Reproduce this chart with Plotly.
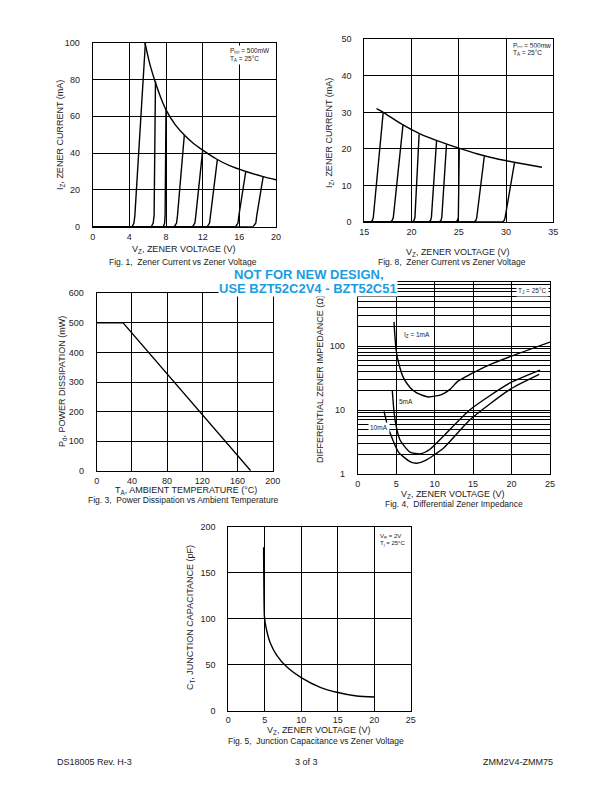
import plotly.graph_objects as go

W, H = 612, 792
FONT = "Liberation Sans, Arial, sans-serif"

# ---------------- Data ----------------
# Fig 1: Zener current vs zener voltage (0-20 V)
f1_env_v = [5.7, 6.2, 6.8, 7.4, 8.0, 9.0, 10.0, 11.0, 12.0, 13.5, 15.0, 16.7, 18.6, 20.0]
f1_env_i = [100, 89, 79, 70.5, 63.5, 55.5, 49.8, 45.2, 41.6, 36.8, 33.0, 30, 27.2, 25.5]
f1_curves_v = [
    [0, 4.3, 4.5, 4.6, 5.75],
    [0, 6.4, 6.6, 6.7, 6.85],
    [0, 7.7, 7.85, 7.9, 8.0],
    [0, 8.9, 9.15, 9.25, 10.0],
    [0, 10.9, 11.15, 11.25, 12.0],
    [0, 12.5, 12.75, 12.85, 13.6],
    [0, 15.6, 15.85, 15.95, 16.7],
    [0, 17.5, 17.8, 17.9, 18.6],
]
f1_curves_i = [
    [0, 0, 2, 6, 100],
    [0, 0, 2, 6, 79],
    [0, 0, 2, 6, 63.5],
    [0, 0, 2, 6, 50],
    [0, 0, 2, 6, 41.6],
    [0, 0, 2, 6, 36.5],
    [0, 0, 2, 6, 30],
    [0, 0, 2, 6, 27.2],
]

# Fig 8: Zener current vs zener voltage (15-35 V)
f8_env_v = [16.3, 17.0, 19.0, 21.0, 23.0, 25.0, 27.0, 29.0, 31.0, 33.8]
f8_env_i = [31.0, 30.0, 26.7, 24.0, 22.0, 20.2, 18.6, 17.3, 16.3, 15.0]
f8_curves_v = [
    [15, 15.65, 15.85, 15.95, 17.0],
    [15, 17.75, 17.95, 18.07, 19.1],
    [15, 20.05, 20.25, 20.36, 20.8],
    [15, 21.8, 22.0, 22.1, 22.65],
    [15, 22.9, 23.1, 23.2, 23.7],
    [15, 24.65, 24.85, 24.95, 25.05],
    [15, 26.6, 26.8, 26.9, 27.7],
    [15, 29.6, 29.8, 29.9, 30.9],
]
f8_curves_i = [
    [0, 0, 0.4, 1.2, 30.0],
    [0, 0, 0.4, 1.2, 26.7],
    [0, 0, 0.4, 1.2, 24.0],
    [0, 0, 0.4, 1.2, 22.3],
    [0, 0, 0.4, 1.2, 21.3],
    [0, 0, 0.4, 1.2, 20.2],
    [0, 0, 0.4, 1.2, 18.0],
    [0, 0, 0.4, 1.2, 16.3],
]

# Fig 3: Power dissipation vs ambient temperature
f3_temp = [0, 30, 175]
f3_power = [500, 500, 0]

# Fig 4: Differential zener impedance (log)
f4_1ma_v = [4.72, 5.0, 5.4, 5.94, 6.8, 7.67, 9.19, 10.9, 12.0, 13.0, 14.6, 17.0, 19.8, 25.0]
f4_1ma_z = [238, 85, 50, 32, 22.5, 18.5, 16, 17.4, 21, 28, 36, 50, 68, 115]
f4_5ma_v = [4.5, 4.7, 4.95, 5.5, 6.8, 8.1, 9.4, 11.1, 14.6, 19.8, 23.7]
f4_5ma_z = [20, 10, 6, 3.4, 2.2, 2.06, 2.44, 3.86, 10.1, 26.5, 42]
f4_10ma_v = [3.42, 3.8, 4.2, 5.3, 6.8, 7.67, 8.75, 11.1, 14.6, 19.8, 23.6]
f4_10ma_z = [9.5, 6.2, 4.4, 2.2, 1.56, 1.47, 1.62, 2.5, 7.05, 21, 36]

# Fig 5: Junction capacitance vs zener voltage
f5_v = [4.84, 4.94, 5.03, 5.3, 5.7, 6.6, 8.0, 10.05, 12.6, 14.85, 17.6, 20.1]
f5_c = [177.6, 104, 97, 86, 75, 61, 48, 36, 25.7, 20.3, 16.3, 15.2]

# ---------------- Figure ----------------
OFF = 8  # page body margin in the browser

def px(x):
    return (x - OFF) / W

def py(y):
    return 1 - (y - OFF) / H

fig = go.Figure()
line = dict(color="black", width=1.4)
sline = dict(color="black", width=1.4, shape="spline", smoothing=0.6)

for v, i in zip(f1_curves_v, f1_curves_i):
    fig.add_trace(go.Scatter(x=v, y=i, mode="lines", line=line, xaxis="x", yaxis="y"))
fig.add_trace(go.Scatter(x=f1_env_v, y=f1_env_i, mode="lines", line=sline, xaxis="x", yaxis="y"))

for v, i in zip(f8_curves_v, f8_curves_i):
    fig.add_trace(go.Scatter(x=v, y=i, mode="lines", line=line, xaxis="x2", yaxis="y2"))
fig.add_trace(go.Scatter(x=f8_env_v, y=f8_env_i, mode="lines", line=sline, xaxis="x2", yaxis="y2"))

fig.add_trace(go.Scatter(x=f3_temp, y=f3_power, mode="lines", line=line, xaxis="x3", yaxis="y3"))

for v, z in [(f4_1ma_v, f4_1ma_z), (f4_5ma_v, f4_5ma_z), (f4_10ma_v, f4_10ma_z)]:
    fig.add_trace(go.Scatter(x=v, y=z, mode="lines", line=sline, xaxis="x4", yaxis="y4"))

fig.add_trace(go.Scatter(x=f5_v, y=f5_c, mode="lines", line=sline, xaxis="x5", yaxis="y5"))

tickfont = dict(family=FONT, size=9, color="#222")
base = dict(showline=True, linecolor="black", linewidth=1, mirror=True, showgrid=True,
            gridcolor="black", gridwidth=1, zeroline=False, ticks="", tickfont=tickfont,
            fixedrange=True, automargin=False)

def ax(domain, rng, dtick=None, anchor=None, **kw):
    d = dict(base)
    d.update(domain=domain, range=rng, anchor=anchor)
    if dtick is not None:
        d["dtick"] = dtick
    d.update(kw)
    return d

minor_vals = [2, 3, 4, 5, 6, 7, 8, 9, 20, 30, 40, 50, 60, 70, 80, 90, 200, 300, 400, 500, 600, 700, 800, 900]
XS = 1
YS = 10

fig.update_layout(
    width=W, height=H, margin=dict(l=0, r=0, t=0, b=0, autoexpand=False),
    paper_bgcolor="white", plot_bgcolor="white", showlegend=False,
    font=dict(family=FONT, color="#222"),
    xaxis=ax([px(92.7), px(276)], [0, 20], 4, "y", ticklabelstandoff=XS),
    yaxis=ax([py(226.7), py(42.7)], [0, 100], 20, "x", ticklabelstandoff=YS),
    xaxis2=ax([px(364.3), px(553.3)], [15, 35], 5, "y2", ticklabelstandoff=XS),
    yaxis2=ax([py(222), py(39.3)], [0, 50], 10, "x2", ticklabelstandoff=YS),
    xaxis3=ax([px(96.7), px(272.7)], [0, 200], 40, "y3", ticklabelstandoff=XS),
    yaxis3=ax([py(470.7), py(293.3)], [0, 600], 100, "x3", ticklabelstandoff=YS),
    xaxis4=ax([px(357.7), px(550)], [0, 25], 5, "y4", ticklabelstandoff=XS),
    yaxis4=ax([py(474), py(282)], [0, 3], None, "x4", type="log", tickvals=[1, 10, 100],
              ticktext=["1", "10", "100"], ticklabelstandoff=YS,
              minor=dict(tickvals=minor_vals, showgrid=True, gridcolor="black", gridwidth=1, ticks="")),
    xaxis5=ax([px(228.3), px(410.7)], [0, 25], 5, "y5", ticklabelstandoff=0),
    yaxis5=ax([py(711), py(526.7)], [0, 200], 50, "x5", ticklabelstandoff=YS),
)

ann = []
def text(x, y, s, size=9, angle=0, xanchor="center", color="#222", bold=False, bg=None, pad=1):
    a = dict(x=px(x), y=py(y), xref="paper", yref="paper", text=s, showarrow=False,
             textangle=angle, xanchor=xanchor, yanchor="middle",
             font=dict(family=FONT, size=size, color=color))
    if bold:
        a["text"] = "<b>" + s + "</b>"
    if bg:
        a["bgcolor"] = bg
        a["borderpad"] = pad
    ann.append(a)

BLUE = "#1b9ce2"

# Fig 1 texts
text(184, 249, "V<sub>Z</sub>, ZENER VOLTAGE (V)")
text(183, 262, "Fig. 1,  Zener Current vs Zener Voltage", size=8.5)
text(60, 135, "I<sub>Z</sub>, ZENER CURRENT (mA)", angle=-90)
text(228, 51, "P<sub>tot</sub> = 500mW", size=6.5, xanchor="left", bg="white")
text(228, 58.5, "T<sub>A</sub> = 25°C", size=6.5, xanchor="left", bg="white")

# Fig 8 texts
text(458, 252, "V<sub>Z</sub>, ZENER VOLTAGE (V)")
text(452, 262, "Fig. 8,  Zener Current vs Zener Voltage", size=8.5)
text(329, 133, "I<sub>Z</sub>, ZENER CURRENT (mA)", angle=-90)
text(511, 46, "P<sub>tot</sub> = 500mw", size=6.5, xanchor="left", bg="white")
text(511, 53, "T<sub>A</sub> = 25°C", size=6.5, xanchor="left", bg="white")

# Fig 3 texts
text(186, 490, "T<sub>A</sub>, AMBIENT TEMPERATURE (°C)")
text(183, 500, "Fig. 3,  Power Dissipation vs Ambient Temperature", size=8.5)
text(62, 382, "P<sub>d</sub>, POWER DISSIPATION (mW)", angle=-90)

# Fig 4 texts
text(453, 494, "V<sub>Z</sub>, ZENER VOLTAGE (V)")
text(454, 504, "Fig. 4,  Differential Zener Impedance", size=8.5)
text(320, 379, "DIFFERENTIAL ZENER IMPEDANCE (Ω)", angle=-90)
text(516, 291, "T<sub>J</sub> = 25°C", size=6.5, xanchor="left", bg="white")
text(402, 335, "I<sub>Z</sub> = 1mA", size=6.5, xanchor="left", bg="white")
text(397, 402, "5mA", size=6.5, xanchor="left", bg="white")
text(368, 427, "10mA", size=6.5, xanchor="left", bg="white")

# Fig 5 texts
text(319, 730, "V<sub>Z</sub>, ZENER VOLTAGE (V)")
text(316, 741, "Fig. 5,  Junction Capacitance vs Zener Voltage", size=8.5)
text(190, 618, "C<sub>T</sub>, JUNCTION CAPACITANCE (pF)", angle=-90)
text(378, 536, "V<sub>R</sub> = 2V", size=6, xanchor="left", bg="white")
text(378, 543, "T<sub>j</sub> = 25°C", size=6, xanchor="left", bg="white")

# Blue notice
text(309, 274, "NOT FOR NEW DESIGN,", size=13, color=BLUE, bold=True, bg="white", pad=0)
text(308, 288, "USE BZT52C2V4 - BZT52C51", size=13, color=BLUE, bold=True, bg="white", pad=0)

# Footer
text(55, 762, "DS18005 Rev. H-3", size=9, xanchor="left")
text(306, 762, "3 of 3", size=9)
text(555, 762, "ZMM2V4-ZMM75", size=9, xanchor="right")

fig.update_layout(annotations=ann)
fig.write_html("out.html")
